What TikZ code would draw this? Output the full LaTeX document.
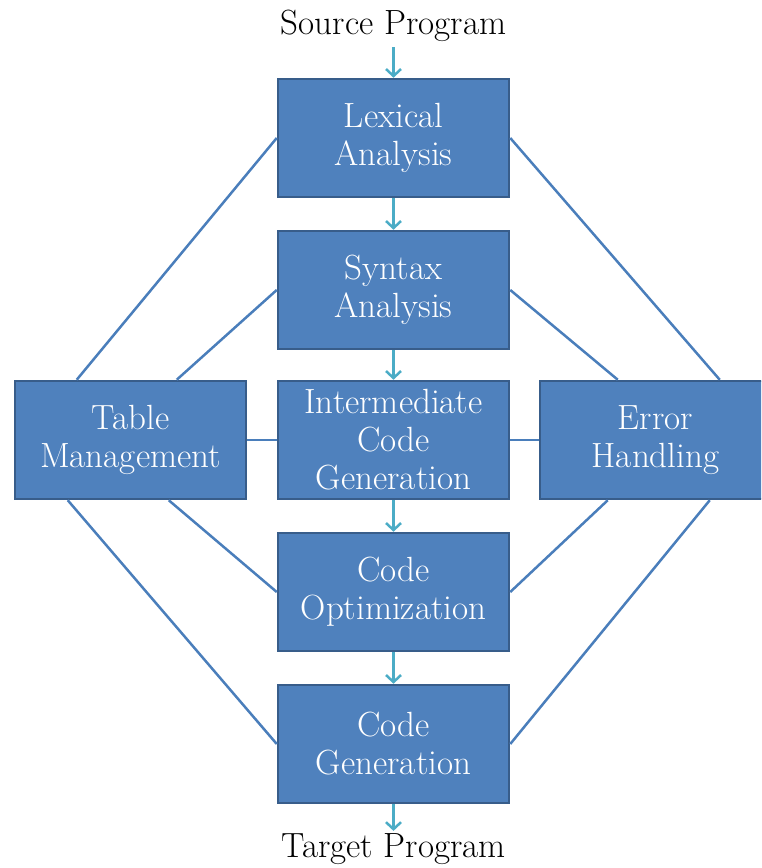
\documentclass[tikz,border=0pt]{standalone}
\usetikzlibrary{arrows.meta}
\definecolor{boxblue}{HTML}{4F81BD}
\definecolor{boxedge}{HTML}{385D8A}
\definecolor{linkblue}{HTML}{4A7EBB}
\definecolor{arrowteal}{HTML}{4BACC6}
\tikzset{
	phase/.style={draw=boxedge,fill=boxblue,line width=2.5pt,minimum width=231pt,minimum height=118pt,inner sep=0pt,align=center,text=white,font=\fontsize{35}{38}\selectfont},
	progtext/.style={inner sep=0pt,font=\fontsize{35}{38}\selectfont},
	flow/.style={draw=arrowteal,line width=2.5pt,-{Straight Barb[length=7pt,width=15pt]}},
	link/.style={draw=linkblue,line width=2.5pt}
}
\begin{document}
\begin{tikzpicture}[x=1pt,y=1pt]
				\clip (0,0) rectangle (761,868);
				\node[phase] (lex) at (393.5,730) {Lexical\\Analysis};
				\node[phase] (syn) at (393.5,578) {Syntax\\Analysis};
				\node[phase] (inter) at (393.5,428) {Intermediate\\Code\\Generation};
				\node[phase] (opt) at (393.5,276) {Code\\Optimization};
				\node[phase] (gen) at (393.5,124) {Code\\Generation};
				\node[phase] (tab) at (130.5,428) {Table\\Management};
				\node[phase] (err) at (655.5,428) {Error\\Handling};
				\node[progtext,anchor=base] (src) at (393.5,833) {Source Program};
				\node[progtext,anchor=base] (tgt) at (393.5,10) {Target Program};
				% flow through the phases
				\draw[flow] ([yshift=-5pt]src.south)--(lex.north);
				\draw[flow] (lex.south)--(syn.north);
				\draw[flow] (syn.south)--(inter.north);
				\draw[flow] (inter.south)--(opt.north);
				\draw[flow] (opt.south)--(gen.north);
				\draw[flow] (gen.south)--([yshift=3pt]tgt.north);
				% table management links
				\draw[link] (lex.west)--([xshift=63pt]tab.north west);
				\draw[link] (syn.west)--([xshift=163pt]tab.north west);
				\draw[link] (inter.west)--(tab.east);
				\draw[link] ([xshift=155pt]tab.south west)--(opt.west);
				\draw[link] ([xshift=54pt]tab.south west)--(gen.west);
				% error handling links
				\draw[link] (lex.east)--([xshift=181pt]err.north west);
				\draw[link] (syn.east)--([xshift=79pt]err.north west);
				\draw[link] (inter.east)--(err.west);
				\draw[link] ([xshift=69pt]err.south west)--(opt.east);
				\draw[link] ([xshift=171pt]err.south west)--(gen.east);
			\end{tikzpicture}
\end{document}
